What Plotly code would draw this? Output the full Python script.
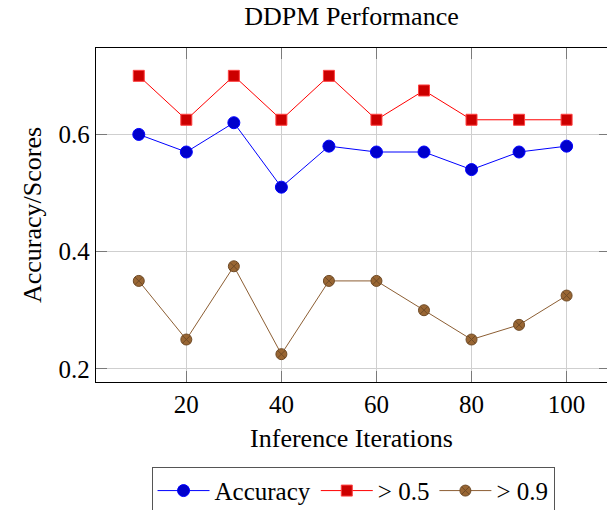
import plotly.graph_objects as go

iterations = [10, 20, 30, 40, 50, 60, 70, 80, 90, 100]
accuracy = [0.60, 0.57, 0.62, 0.51, 0.58, 0.57, 0.57, 0.54, 0.57, 0.58]
score_05 = [0.70, 0.625, 0.70, 0.625, 0.70, 0.625, 0.675, 0.625, 0.625, 0.625]
score_09 = [0.35, 0.25, 0.375, 0.225, 0.35, 0.35, 0.30, 0.25, 0.275, 0.325]

x_ticks = [20, 40, 60, 80, 100]
y_ticks = [0.2, 0.4, 0.6]
y_tick_labels = ["0.2", "0.4", "0.6"]

FONT = "Liberation Serif, Times New Roman, serif"
FS = 25

fig = go.Figure()
fig.add_trace(go.Scatter(
    x=iterations, y=accuracy, mode="lines+markers", name="Accuracy",
    line=dict(color="#0000ff", width=1),
    marker=dict(symbol="circle", size=12, color="#0000cc", line=dict(color="#0000ff", width=1)),
))
fig.add_trace(go.Scatter(
    x=iterations, y=score_05, mode="lines+markers", name="> 0.5",
    line=dict(color="#ff0000", width=1),
    marker=dict(symbol="square", size=11, color="#cc0000", line=dict(color="#ff4040", width=1)),
))
fig.add_trace(go.Scatter(
    x=iterations, y=score_09, mode="lines+markers", name="> 0.9",
    line=dict(color="#8c5e33", width=1),
    marker=dict(symbol="circle-x", size=11, color="#996633", line=dict(color="#6e4a26", width=1)),
))
# invisible trace to carry the right-hand mirrored tick axis
fig.add_trace(go.Scatter(x=[iterations[0]], y=[accuracy[0]], yaxis="y2", mode="markers",
                         marker=dict(opacity=0), showlegend=False, hoverinfo="skip"))

y_range = [0.1775, 0.7475]

fig.update_layout(
    width=607, height=510,
    margin=dict(l=96, r=0, t=48, b=128, autoexpand=False),
    paper_bgcolor="white", plot_bgcolor="white",
    font=dict(family=FONT, size=FS, color="black"),
    title=dict(text="DDPM Performance", x=0.5, xref="paper", xanchor="center",
               y=1 - 16 / 510, yref="container", yanchor="middle", font=dict(size=26)),
    xaxis=dict(
        range=[1, 108.5], tickvals=x_ticks, ticks="inside", ticklen=11, tickcolor="#7a7a7a",
        tickwidth=1, showline=True, linecolor="black", linewidth=1.3, mirror="ticks",
        showgrid=True, gridcolor="#cfcfcf", gridwidth=1, zeroline=False, automargin=False,
        title=dict(text="Inference Iterations", standoff=11, font=dict(size=26)),
        tickfont=dict(size=FS),
    ),
    yaxis=dict(
        range=y_range, tickvals=y_ticks, ticktext=y_tick_labels, ticks="inside", ticklen=11,
        tickcolor="#7a7a7a", tickwidth=1, showline=True, linecolor="black", linewidth=1.3,
        mirror=False, showgrid=True, gridcolor="#cfcfcf", gridwidth=1, zeroline=False,
        automargin=False,
        title=dict(text="Accuracy/Scores", standoff=9, font=dict(size=26)),
        tickfont=dict(size=FS),
    ),
    yaxis2=dict(
        range=y_range, tickvals=y_ticks, overlaying="y", side="right", ticks="inside",
        ticklen=8, tickcolor="#7a7a7a", showticklabels=False, showgrid=False,
        showline=False, zeroline=False, automargin=False,
    ),
    legend=dict(
        orientation="h", x=0.503, xanchor="center", y=-0.254, yanchor="top",
        bordercolor="#555555", borderwidth=1, bgcolor="white",
        font=dict(size=FS), itemwidth=52, tracegroupgap=0,
    ),
    showlegend=True,
)

fig.write_html(
    "out.html",
    config={"displayModeBar": False},
    post_script="document.body.style.margin='0';document.body.style.padding='0';",
)
